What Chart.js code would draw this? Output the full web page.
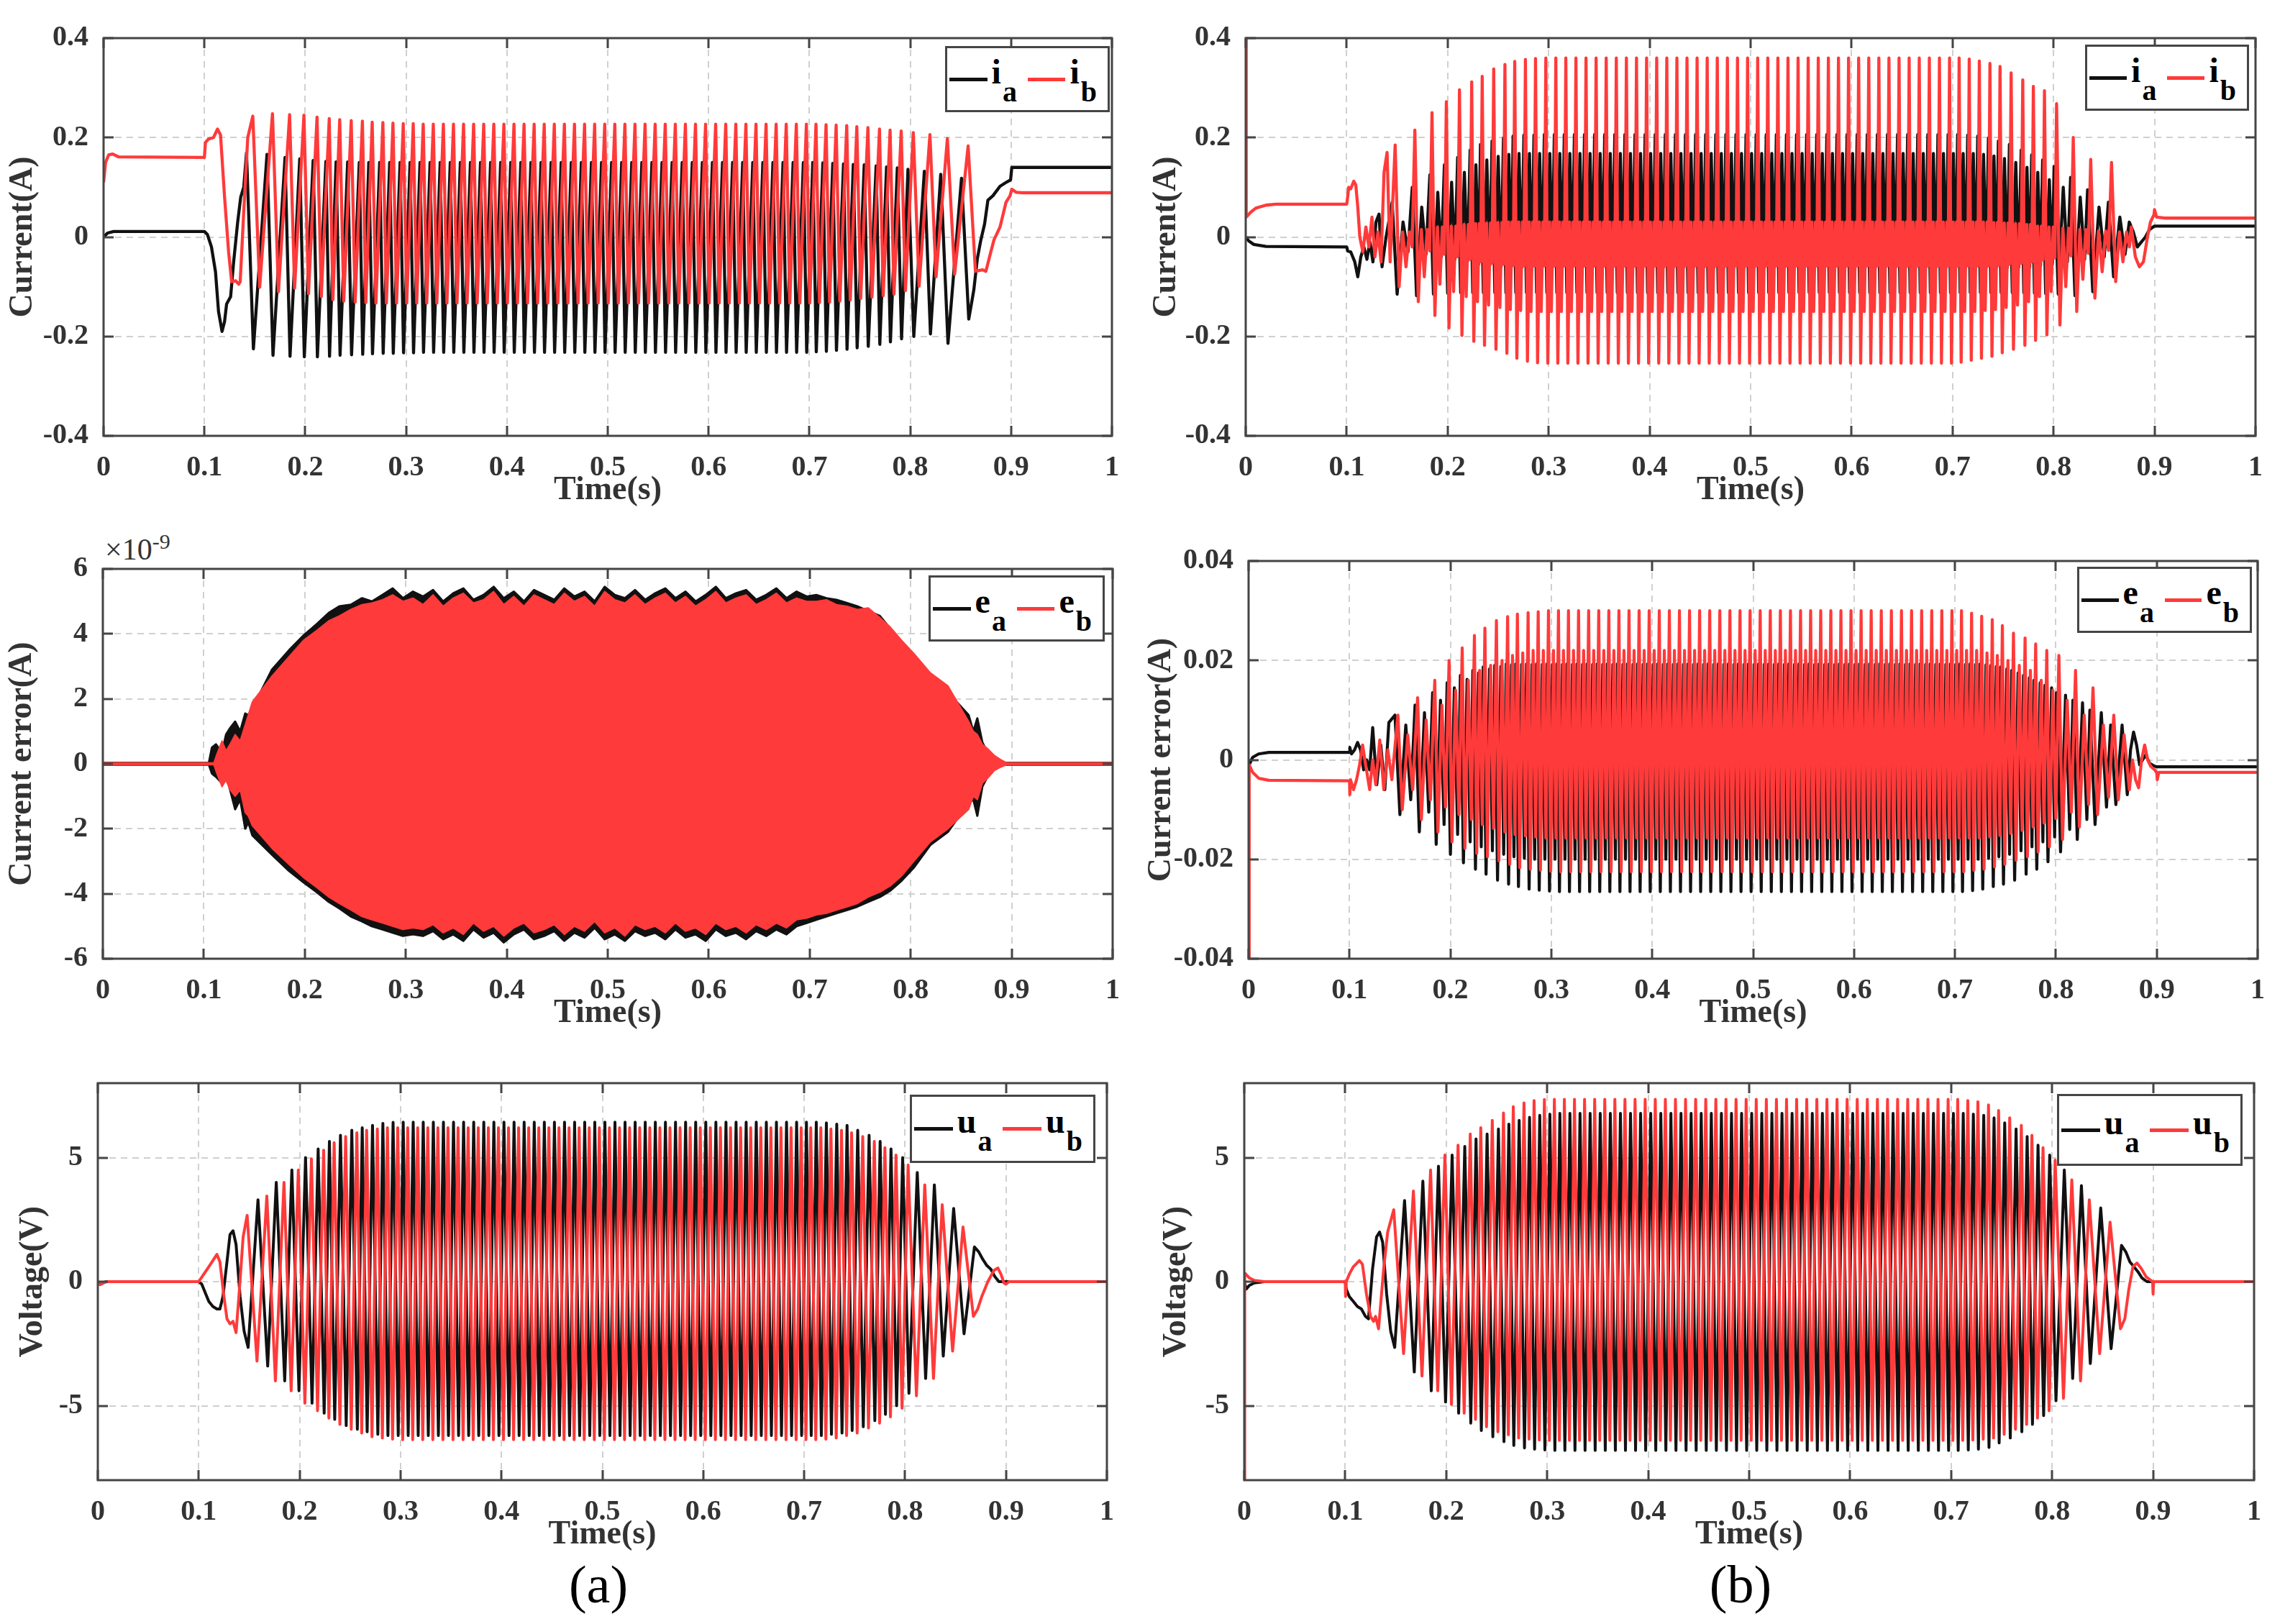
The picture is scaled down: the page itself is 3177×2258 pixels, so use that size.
<!DOCTYPE html>
<html>
<head>
<meta charset="utf-8">
<script src="https://cdn.jsdelivr.net/npm/chart.js@4.4.0/dist/chart.umd.min.js"></script>
<style>
body { margin: 0; background: #fff; width: 3177px; height: 2258px; position: relative; overflow: hidden; font-family: 'Liberation Serif', 'Times New Roman', serif; }
canvas { position: absolute; }
.leg { position: absolute; box-sizing: border-box; border: 3px solid #454545; background: #fff; display: flex; align-items: center; padding-left: 3px; font-weight: bold; font-size: 48px; color: #000; }
.leg .ln { display: inline-block; width: 59px; height: 5px; margin-right: 6px; }
.leg .sy { position: relative; top: -9px; line-height: 48px; margin-right: 15px; white-space: nowrap; }
.leg sub { font-size: 40px; vertical-align: baseline; position: relative; top: 25px; margin-left: 2px; }
.lab { position: absolute; color: #333; white-space: nowrap; }
</style>
</head>
<body>
<div class="lab" style="left:146px;top:732px;font-size:42px;line-height:42px;">&times;10<sup style="font-size:30px">-9</sup></div>
<div class="lab" style="left:832px;top:2166px;font-size:74px;line-height:74px;transform:translateX(-50%);color:#000">(a)</div>
<div class="lab" style="left:2420px;top:2166px;font-size:74px;line-height:74px;transform:translateX(-50%);color:#000">(b)</div>
<script>
// ---- tick values ----
const xTicks = [0, 0.1, 0.2, 0.3, 0.4, 0.5, 0.6, 0.7, 0.8, 0.9, 1];
const iTicks = [-0.4, -0.2, 0, 0.2, 0.4];
const eTicksA = [-6, -4, -2, 0, 2, 4, 6];
const eTicksB = [-0.04, -0.02, 0, 0.02, 0.04];
const uTicks = [-5, 0, 5];

// ---- times of the cycle peaks (s) ----
const cycT = [0.148,0.1675,0.1845,0.1987,0.2117,0.2238,0.2342,0.2456,0.2567,0.2664,0.277,0.287,0.2972,0.3071,
  0.317,0.327,0.337,0.347,0.357,0.367,0.377,0.387,0.397,0.407,0.417,0.427,0.437,
  0.447,0.457,0.467,0.477,0.487,0.497,0.507,0.517,0.527,0.537,0.547,0.557,0.567,
  0.577,0.587,0.597,0.607,0.617,0.627,0.637,0.647,0.657,0.667,0.677,0.687,0.697,
  0.7065,0.7165,0.7265,0.737,0.747,0.758,0.7695,0.78,0.791,0.803,0.8195,0.8368,0.8574];

// ---- (a) currents: peak / trough per cycle ----
const iaHi = [0.169,0.166,0.16,0.157,0.154,0.152,0.151,0.151,0.15,0.15,0.15,0.15,0.15,0.15,
  0.15,0.15,0.15,0.15,0.15,0.15,0.15,0.15,0.15,0.15,0.15,0.15,0.15,
  0.15,0.15,0.15,0.15,0.15,0.15,0.15,0.15,0.15,0.15,0.15,0.15,0.15,
  0.15,0.15,0.15,0.15,0.15,0.15,0.15,0.15,0.15,0.15,0.15,0.15,0.15,
  0.15,0.149,0.148,0.147,0.146,0.145,0.143,0.141,0.139,0.136,0.132,0.126,0.118];
const iaLo = [-0.225,-0.238,-0.24,-0.241,-0.241,-0.24,-0.238,-0.237,-0.236,-0.235,-0.234,-0.234,-0.233,-0.233,
  -0.232,-0.232,-0.232,-0.232,-0.232,-0.232,-0.232,-0.232,-0.232,-0.232,-0.232,-0.232,-0.232,
  -0.232,-0.232,-0.232,-0.232,-0.232,-0.232,-0.232,-0.232,-0.232,-0.232,-0.232,-0.232,-0.232,
  -0.232,-0.232,-0.232,-0.232,-0.232,-0.232,-0.232,-0.232,-0.232,-0.232,-0.232,-0.232,-0.232,
  -0.231,-0.23,-0.228,-0.226,-0.223,-0.22,-0.216,-0.211,-0.205,-0.2,-0.195,-0.214,-0.165];
const ibHi = [0.243,0.248,0.246,0.245,0.241,0.238,0.236,0.234,0.233,0.231,0.23,0.229,0.228,0.228,
  0.227,0.227,0.227,0.227,0.227,0.227,0.227,0.227,0.227,0.227,0.227,0.227,0.227,
  0.227,0.227,0.227,0.227,0.227,0.227,0.227,0.227,0.227,0.227,0.227,0.227,0.227,
  0.227,0.227,0.227,0.227,0.227,0.227,0.227,0.227,0.227,0.227,0.227,0.227,0.227,
  0.227,0.226,0.225,0.224,0.222,0.22,0.217,0.215,0.213,0.21,0.206,0.198,0.183];
const ibLo = [-0.101,-0.11,-0.103,-0.114,-0.12,-0.126,-0.129,-0.131,-0.132,-0.133,-0.133,-0.133,-0.133,-0.133,
  -0.133,-0.133,-0.133,-0.133,-0.133,-0.133,-0.133,-0.133,-0.133,-0.133,-0.133,-0.133,-0.133,
  -0.133,-0.133,-0.133,-0.133,-0.133,-0.133,-0.133,-0.133,-0.133,-0.133,-0.133,-0.133,-0.133,
  -0.133,-0.133,-0.133,-0.133,-0.133,-0.133,-0.133,-0.133,-0.133,-0.133,-0.133,-0.133,-0.133,
  -0.132,-0.131,-0.129,-0.127,-0.124,-0.121,-0.118,-0.115,-0.108,-0.099,-0.08,-0.075,-0.069];
const iaPre = [[0,0],[0.004,0.008],[0.01,0.011],[0.1,0.011],[0.103,0.005],[0.107,-0.02],[0.111,-0.07],[0.114,-0.15],[0.1175,-0.19],[0.12,-0.17],[0.122,-0.135],[0.126,-0.12],[0.129,-0.05],[0.133,0.03],[0.136,0.08],[0.139,0.1]];
const iaPost = [[0.863,-0.107],[0.8665,-0.044],[0.87,-0.006],[0.8737,0.026],[0.877,0.074],[0.882,0.083],[0.889,0.102],[0.896,0.111],[0.8995,0.115],[0.9007,0.14],[0.91,0.14],[1,0.14]];
const ibPre = [[0,0.11],[0.002,0.15],[0.005,0.165],[0.009,0.167],[0.015,0.161],[0.1,0.16],[0.101,0.19],[0.104,0.197],[0.109,0.2],[0.113,0.217],[0.116,0.205],[0.12,0.08],[0.124,-0.03],[0.127,-0.09],[0.131,-0.088],[0.134,-0.095],[0.1355,-0.09],[0.139,0.05],[0.143,0.2]];
const ibPost = [[0.8718,-0.066],[0.875,-0.069],[0.879,-0.037],[0.883,-0.006],[0.889,0.02],[0.895,0.07],[0.899,0.083],[0.9007,0.096],[0.905,0.09],[0.91,0.089],[1,0.089]];

// ---- (b) currents ----
// i_a: spike, dip, shoulder, inner low
const trAHi = [0.07,0.1,0.125,0.145,0.16,0.175,0.186,0.193,0.199,0.203,0.205,0.205,0.206,0.206,
  0.206,0.206,0.206,0.206,0.206,0.206,0.206,0.206,0.206,0.206,0.206,0.206,0.206,
  0.206,0.206,0.206,0.206,0.206,0.206,0.206,0.206,0.206,0.206,0.206,0.206,0.206,
  0.206,0.206,0.206,0.206,0.206,0.206,0.206,0.206,0.206,0.206,0.206,0.206,0.206,
  0.206,0.205,0.203,0.199,0.193,0.186,0.175,0.165,0.155,0.142,0.12,0.095,0.07];
const trALo = [-0.115,-0.118,-0.115,-0.113,-0.112,-0.112,-0.112,-0.112,-0.112,-0.112,-0.112,-0.112,-0.112,-0.112,
  -0.112,-0.112,-0.112,-0.112,-0.112,-0.112,-0.112,-0.112,-0.112,-0.112,-0.112,-0.112,-0.112,
  -0.112,-0.112,-0.112,-0.112,-0.112,-0.112,-0.112,-0.112,-0.112,-0.112,-0.112,-0.112,-0.112,
  -0.112,-0.112,-0.112,-0.112,-0.112,-0.112,-0.112,-0.112,-0.112,-0.112,-0.112,-0.112,-0.112,
  -0.112,-0.112,-0.112,-0.112,-0.112,-0.112,-0.112,-0.113,-0.114,-0.115,-0.118,-0.11,-0.08];
const trAHi2 = [0.03,0.06,0.09,0.11,0.13,0.145,0.155,0.162,0.166,0.168,0.168,0.168,0.168,0.168,
  0.168,0.168,0.168,0.168,0.168,0.168,0.168,0.168,0.168,0.168,0.168,0.168,0.168,
  0.168,0.168,0.168,0.168,0.168,0.168,0.168,0.168,0.168,0.168,0.168,0.168,0.168,
  0.168,0.168,0.168,0.168,0.168,0.168,0.168,0.168,0.168,0.168,0.168,0.168,0.168,
  0.168,0.168,0.166,0.163,0.158,0.15,0.14,0.13,0.115,0.1,0.08,0.06,0.04];
const trALo2 = [-0.03,-0.035,-0.04,-0.045,-0.05,-0.055,-0.058,-0.06,-0.061,-0.061,-0.061,-0.061,-0.061,-0.061,
  -0.061,-0.061,-0.061,-0.061,-0.061,-0.061,-0.061,-0.061,-0.061,-0.061,-0.061,-0.061,-0.061,
  -0.061,-0.061,-0.061,-0.061,-0.061,-0.061,-0.061,-0.061,-0.061,-0.061,-0.061,-0.061,-0.061,
  -0.061,-0.061,-0.061,-0.061,-0.061,-0.061,-0.061,-0.061,-0.061,-0.061,-0.061,-0.061,-0.061,
  -0.061,-0.061,-0.061,-0.061,-0.061,-0.061,-0.061,-0.058,-0.055,-0.05,-0.045,-0.04,-0.035];
// i_b: spike, deep dip, core top, band low, core low
const trBHi = [0.185,0.215,0.25,0.272,0.296,0.312,0.323,0.338,0.347,0.353,0.357,0.359,0.36,0.36,
  0.36,0.36,0.36,0.36,0.36,0.36,0.36,0.36,0.36,0.36,0.36,0.36,0.36,
  0.36,0.36,0.36,0.36,0.36,0.36,0.36,0.36,0.36,0.36,0.36,0.36,0.36,
  0.36,0.36,0.36,0.36,0.36,0.36,0.36,0.36,0.36,0.36,0.36,0.36,0.36,
  0.36,0.358,0.354,0.349,0.343,0.33,0.316,0.303,0.294,0.268,0.2,0.156,0.15];
const trBLo = [-0.1,-0.13,-0.158,-0.183,-0.198,-0.21,-0.218,-0.226,-0.234,-0.244,-0.25,-0.253,-0.254,-0.254,
  -0.254,-0.254,-0.254,-0.254,-0.254,-0.254,-0.254,-0.254,-0.254,-0.254,-0.254,-0.254,-0.254,
  -0.254,-0.254,-0.254,-0.254,-0.254,-0.254,-0.254,-0.254,-0.254,-0.254,-0.254,-0.254,-0.254,
  -0.254,-0.254,-0.254,-0.254,-0.254,-0.254,-0.254,-0.254,-0.254,-0.254,-0.254,-0.254,-0.254,
  -0.252,-0.248,-0.244,-0.24,-0.233,-0.226,-0.218,-0.208,-0.197,-0.177,-0.15,-0.123,-0.09];
const trBCore = [0.01,0.015,0.02,0.022,0.025,0.027,0.028,0.029,0.03,0.03,0.03,0.03,0.03,0.03,
  0.03,0.03,0.03,0.03,0.03,0.03,0.03,0.03,0.03,0.03,0.03,0.03,0.03,
  0.03,0.03,0.03,0.03,0.03,0.03,0.03,0.03,0.03,0.03,0.03,0.03,0.03,
  0.03,0.03,0.03,0.03,0.03,0.03,0.03,0.03,0.03,0.03,0.03,0.03,0.03,
  0.03,0.03,0.03,0.029,0.028,0.027,0.025,0.022,0.02,0.018,0.015,0.012,0.01];
const trBBand = [-0.06,-0.08,-0.095,-0.11,-0.12,-0.13,-0.137,-0.142,-0.146,-0.148,-0.15,-0.15,-0.15,-0.15,
  -0.15,-0.15,-0.15,-0.15,-0.15,-0.15,-0.15,-0.15,-0.15,-0.15,-0.15,-0.15,-0.15,
  -0.15,-0.15,-0.15,-0.15,-0.15,-0.15,-0.15,-0.15,-0.15,-0.15,-0.15,-0.15,-0.15,
  -0.15,-0.15,-0.15,-0.15,-0.15,-0.15,-0.15,-0.15,-0.15,-0.15,-0.15,-0.15,-0.15,
  -0.15,-0.15,-0.148,-0.146,-0.142,-0.137,-0.13,-0.12,-0.11,-0.1,-0.085,-0.07,-0.05];
const trBCoreLo = [-0.02,-0.028,-0.035,-0.04,-0.045,-0.05,-0.053,-0.055,-0.057,-0.058,-0.058,-0.058,-0.058,-0.058,
  -0.058,-0.058,-0.058,-0.058,-0.058,-0.058,-0.058,-0.058,-0.058,-0.058,-0.058,-0.058,-0.058,
  -0.058,-0.058,-0.058,-0.058,-0.058,-0.058,-0.058,-0.058,-0.058,-0.058,-0.058,-0.058,-0.058,
  -0.058,-0.058,-0.058,-0.058,-0.058,-0.058,-0.058,-0.058,-0.058,-0.058,-0.058,-0.058,-0.058,
  -0.058,-0.058,-0.058,-0.057,-0.055,-0.053,-0.05,-0.046,-0.042,-0.038,-0.033,-0.027,-0.02];
const trAPre = [[0,0],[0.003,-0.008],[0.008,-0.015],[0.02,-0.019],[0.1,-0.02],[0.101,-0.028],[0.104,-0.03],[0.108,-0.05],[0.111,-0.08],[0.114,-0.04],[0.117,-0.02],[0.12,-0.045],[0.123,-0.01],[0.126,-0.05],[0.129,0.03],[0.132,0.046],[0.135,-0.06],[0.139,0]];
const trAPost = [[0.875,0.03],[0.879,0.01],[0.883,-0.02],[0.887,-0.01],[0.891,0],[0.895,0.015],[0.9,0.022],[1,0.022]];
const trBPre = [[0,0.4],[0.0005,0.04],[0.005,0.05],[0.01,0.058],[0.02,0.064],[0.03,0.066],[0.1,0.066],[0.1005,0.072],[0.102,0.1],[0.104,0.097],[0.107,0.112],[0.109,0.105],[0.111,0.06],[0.113,0],[0.116,-0.03],[0.119,0.02],[0.122,-0.02],[0.125,0.04],[0.128,-0.04],[0.131,0.01],[0.134,-0.05],[0.137,0.13],[0.14,0.17],[0.143,-0.05]];
const trBPost = [[0.877,0.02],[0.881,-0.04],[0.885,-0.06],[0.889,-0.05],[0.893,0],[0.896,0.03],[0.8995,0.045],[0.9,0.055],[0.902,0.04],[0.91,0.038],[1,0.038]];

// ---- (a) current error (x1e-9): envelope per cycle ----
const eaUp = [1.7,2.9,3.5,3.95,4.3,4.65,4.85,4.9,5.1,5.0,5.2,5.4,5.1,5.3,
  5.15,5.35,5.0,5.25,5.4,5.05,5.2,5.45,5.1,5.3,5.0,5.35,5.2,
  5.05,5.4,5.15,5.3,5.0,5.45,5.2,5.1,5.35,5.05,5.25,5.4,5.1,
  5.3,5.0,5.2,5.45,5.1,5.25,5.35,5.05,5.2,5.4,5.1,5.3,5.15,
  5.2,5.1,5.05,4.95,4.85,4.7,4.55,4.15,3.75,3.3,2.6,2.2,1.5];
const eaDn = [-2.2,-2.8,-3.3,-3.65,-3.95,-4.25,-4.45,-4.7,-4.85,-5.0,-5.1,-5.2,-5.3,-5.25,
  -5.3,-5.15,-5.4,-5.25,-5.45,-5.1,-5.35,-5.2,-5.5,-5.25,-5.1,-5.4,-5.3,
  -5.15,-5.45,-5.2,-5.35,-5.05,-5.4,-5.25,-5.45,-5.15,-5.3,-5.2,-5.4,-5.1,
  -5.35,-5.25,-5.45,-5.1,-5.3,-5.2,-5.4,-5.15,-5.3,-5.1,-5.25,-5.0,-4.9,
  -4.8,-4.7,-4.6,-4.5,-4.4,-4.25,-4.1,-3.9,-3.6,-3.2,-2.5,-2.1,-1.2];
const ebUp = [1.9,2.7,3.3,3.8,4.1,4.4,4.55,4.75,4.9,4.95,5.05,5.2,5.0,5.1,
  4.9,5.2,4.85,5.1,5.25,4.95,5.05,5.3,4.9,5.15,4.85,5.2,5.05,
  4.9,5.25,5.0,5.15,4.85,5.3,5.05,4.95,5.2,4.9,5.1,5.25,4.95,
  5.15,4.85,5.05,5.3,4.95,5.1,5.2,4.9,5.05,5.25,4.95,5.1,5.0,
  5.0,5.05,4.9,4.85,4.75,4.8,4.5,4.2,3.8,3.4,2.8,2.4,1.3];
const ebDn = [-1.9,-2.6,-3.1,-3.5,-3.8,-4.1,-4.3,-4.5,-4.7,-4.8,-4.9,-5.0,-5.1,-5.05,
  -5.1,-4.95,-5.2,-5.05,-5.25,-4.9,-5.15,-5.0,-5.3,-5.05,-4.9,-5.2,-5.1,
  -4.95,-5.25,-5.0,-5.15,-4.85,-5.2,-5.05,-5.3,-4.95,-5.1,-5.0,-5.2,-4.9,
  -5.15,-5.05,-5.25,-4.9,-5.1,-5.0,-5.2,-4.95,-5.1,-4.9,-5.05,-4.8,-4.75,
  -4.65,-4.6,-4.5,-4.4,-4.3,-4.1,-3.95,-3.75,-3.45,-3.0,-2.4,-2.0,-1.4];
const eaUpPre = [[0,0.03],[0.105,0.03],[0.108,0.5],[0.112,0.6],[0.118,0.35],[0.122,0.9],[0.126,1.1],[0.131,1.3],[0.136,1.0],[0.141,1.55],[0.144,1.5]];
const eaDnPre = [[0,-0.03],[0.105,-0.03],[0.108,-0.3],[0.112,-0.4],[0.118,-0.6],[0.122,-0.35],[0.126,-0.8],[0.131,-1.4],[0.136,-1.1],[0.141,-2.0],[0.144,-1.8]];
const ebUpPre = [[0,0.03],[0.11,0.03],[0.113,0.3],[0.118,0.7],[0.122,0.4],[0.126,0.6],[0.131,0.9],[0.136,0.7],[0.141,1.2],[0.144,1.5]];
const ebDnPre = [[0,-0.03],[0.11,-0.03],[0.113,-0.3],[0.118,-0.7],[0.122,-0.5],[0.126,-0.8],[0.131,-1.0],[0.136,-0.8],[0.141,-1.5],[0.144,-1.6]];
const eaUpPost = [[0.862,1.0],[0.866,1.4],[0.871,0.66],[0.876,0.35],[0.882,0.18],[0.888,0.05],[0.892,0.03],[1,0.03]];
const eaDnPost = [[0.862,-1.1],[0.866,-1.6],[0.871,-0.7],[0.876,-0.4],[0.882,-0.15],[0.888,-0.05],[0.892,-0.03],[1,-0.03]];
const ebUpPost = [[0.862,1.0],[0.866,0.9],[0.871,0.6],[0.876,0.47],[0.883,0.25],[0.889,0.13],[0.895,0.03],[1,0.03]];
const ebDnPost = [[0.862,-1.0],[0.866,-1.1],[0.871,-0.6],[0.876,-0.45],[0.883,-0.2],[0.889,-0.1],[0.895,-0.03],[1,-0.03]];

// ---- (b) current error ----
const mrAHi = [0.009,0.011,0.0135,0.0155,0.017,0.018,0.0187,0.019,0.0193,0.0193,0.0193,0.0193,0.0193,0.0193,
  0.0193,0.0193,0.0193,0.0193,0.0193,0.0193,0.0193,0.0193,0.0193,0.0193,0.0193,0.0193,0.0193,
  0.0193,0.0193,0.0193,0.0193,0.0193,0.0193,0.0193,0.0193,0.0193,0.0193,0.0193,0.0193,0.0193,
  0.0193,0.0193,0.0193,0.0193,0.0193,0.0193,0.0193,0.0193,0.0193,0.0193,0.0193,0.0193,0.0193,
  0.0193,0.0193,0.0193,0.019,0.0187,0.018,0.017,0.016,0.015,0.0135,0.012,0.01,0.007];
const mrALo = [-0.011,-0.0145,-0.017,-0.019,-0.0207,-0.022,-0.023,-0.0242,-0.025,-0.0255,-0.026,-0.0262,-0.0264,-0.0265,
  -0.0265,-0.0265,-0.0265,-0.0265,-0.0265,-0.0265,-0.0265,-0.0265,-0.0265,-0.0265,-0.0265,-0.0265,-0.0265,
  -0.0265,-0.0265,-0.0265,-0.0265,-0.0265,-0.0265,-0.0265,-0.0265,-0.0265,-0.0265,-0.0265,-0.0265,-0.0265,
  -0.0265,-0.0265,-0.0265,-0.0265,-0.0265,-0.0265,-0.0265,-0.0265,-0.0265,-0.0265,-0.0265,-0.0265,-0.0265,
  -0.0265,-0.0263,-0.026,-0.0255,-0.025,-0.0242,-0.023,-0.022,-0.0205,-0.0185,-0.016,-0.013,-0.009];
const mrAHi2 = [0.007,0.0095,0.012,0.0145,0.0162,0.0175,0.0183,0.0188,0.0191,0.0192,0.0192,0.0192,0.0192,0.0192,
  0.0192,0.0192,0.0192,0.0192,0.0192,0.0192,0.0192,0.0192,0.0192,0.0192,0.0192,0.0192,0.0192,
  0.0192,0.0192,0.0192,0.0192,0.0192,0.0192,0.0192,0.0192,0.0192,0.0192,0.0192,0.0192,0.0192,
  0.0192,0.0192,0.0192,0.0192,0.0192,0.0192,0.0192,0.0192,0.0192,0.0192,0.0192,0.0192,0.0192,
  0.0192,0.0192,0.0191,0.0188,0.0183,0.0175,0.0165,0.0155,0.0145,0.013,0.0115,0.0095,0.007];
const mrALo2 = [-0.008,-0.0105,-0.013,-0.015,-0.0165,-0.0175,-0.0183,-0.019,-0.0195,-0.0198,-0.02,-0.02,-0.02,-0.02,
  -0.02,-0.02,-0.02,-0.02,-0.02,-0.02,-0.02,-0.02,-0.02,-0.02,-0.02,-0.02,-0.02,
  -0.02,-0.02,-0.02,-0.02,-0.02,-0.02,-0.02,-0.02,-0.02,-0.02,-0.02,-0.02,-0.02,
  -0.02,-0.02,-0.02,-0.02,-0.02,-0.02,-0.02,-0.02,-0.02,-0.02,-0.02,-0.02,-0.02,
  -0.02,-0.02,-0.0198,-0.0195,-0.019,-0.0183,-0.0175,-0.0165,-0.0155,-0.014,-0.012,-0.0095,-0.007];
const mrBHi = [0.009,0.0125,0.016,0.02,0.0225,0.025,0.0265,0.028,0.0288,0.0293,0.0296,0.0298,0.03,0.03,
  0.03,0.03,0.03,0.03,0.03,0.03,0.03,0.03,0.03,0.03,0.03,0.03,0.03,
  0.03,0.03,0.03,0.03,0.03,0.03,0.03,0.03,0.03,0.03,0.03,0.03,0.03,
  0.03,0.03,0.03,0.03,0.03,0.03,0.03,0.03,0.03,0.03,0.03,0.03,0.03,
  0.03,0.0295,0.0289,0.0282,0.027,0.0255,0.0245,0.0233,0.022,0.021,0.018,0.0145,0.009];
const mrBLo = [-0.01,-0.012,-0.0145,-0.0165,-0.0178,-0.0188,-0.0195,-0.0203,-0.021,-0.0217,-0.022,-0.0222,-0.0224,-0.0225,
  -0.0225,-0.0225,-0.0225,-0.0225,-0.0225,-0.0225,-0.0225,-0.0225,-0.0225,-0.0225,-0.0225,-0.0225,-0.0225,
  -0.0225,-0.0225,-0.0225,-0.0225,-0.0225,-0.0225,-0.0225,-0.0225,-0.0225,-0.0225,-0.0225,-0.0225,-0.0225,
  -0.0225,-0.0225,-0.0225,-0.0225,-0.0225,-0.0225,-0.0225,-0.0225,-0.0225,-0.0225,-0.0225,-0.0225,-0.0225,
  -0.0225,-0.0222,-0.022,-0.0215,-0.021,-0.0202,-0.0195,-0.0185,-0.0175,-0.016,-0.0135,-0.011,-0.008];
const mrBHi2 = [0.005,0.008,0.011,0.014,0.016,0.018,0.019,0.02,0.021,0.0215,0.022,0.022,0.022,0.022,
  0.022,0.022,0.022,0.022,0.022,0.022,0.022,0.022,0.022,0.022,0.022,0.022,0.022,
  0.022,0.022,0.022,0.022,0.022,0.022,0.022,0.022,0.022,0.022,0.022,0.022,0.022,
  0.022,0.022,0.022,0.022,0.022,0.022,0.022,0.022,0.022,0.022,0.022,0.022,0.022,
  0.022,0.022,0.0215,0.021,0.02,0.019,0.018,0.016,0.014,0.012,0.009,0.007,0.005];
const mrBLo2 = [-0.006,-0.008,-0.0095,-0.011,-0.012,-0.013,-0.0138,-0.0145,-0.015,-0.0153,-0.0155,-0.0157,-0.0157,-0.0157,
  -0.0157,-0.0157,-0.0157,-0.0157,-0.0157,-0.0157,-0.0157,-0.0157,-0.0157,-0.0157,-0.0157,-0.0157,-0.0157,
  -0.0157,-0.0157,-0.0157,-0.0157,-0.0157,-0.0157,-0.0157,-0.0157,-0.0157,-0.0157,-0.0157,-0.0157,-0.0157,
  -0.0157,-0.0157,-0.0157,-0.0157,-0.0157,-0.0157,-0.0157,-0.0157,-0.0157,-0.0157,-0.0157,-0.0157,-0.0157,
  -0.0157,-0.0157,-0.0155,-0.0152,-0.0148,-0.0142,-0.0135,-0.0127,-0.0118,-0.0105,-0.009,-0.0075,-0.006];
const mrAPre = [[0,0],[0.001,-0.0008],[0.004,0.0005],[0.01,0.0012],[0.02,0.0015],[0.1,0.0015],[0.1003,0.0025],[0.102,0.0012],[0.105,0.002],[0.108,0.0035],[0.111,0.002],[0.114,-0.002],[0.117,0],[0.12,-0.002],[0.123,0.0065],[0.127,-0.005],[0.131,0.003],[0.135,-0.006],[0.139,0.0075]];
const mrAPost = [[0.874,0.002],[0.877,0.0056],[0.88,0.003],[0.883,-0.001],[0.886,0],[0.889,0.001],[0.893,-0.0007],[0.897,-0.0012],[0.9,-0.0014],[1,-0.0014]];
const mrBPre = [[0,-0.04],[0.0006,-0.001],[0.004,-0.0025],[0.01,-0.0037],[0.02,-0.0041],[0.1,-0.0042],[0.1003,-0.007],[0.101,-0.004],[0.104,-0.006],[0.107,-0.004],[0.11,-0.001],[0.113,0.003],[0.116,-0.001],[0.12,-0.006],[0.123,0],[0.126,-0.005],[0.13,0.004],[0.134,-0.006],[0.138,0.002],[0.142,-0.004]];
const mrBPost = [[0.876,0],[0.879,-0.004],[0.882,-0.0056],[0.885,0],[0.888,0.003],[0.891,0],[0.894,-0.0013],[0.898,-0.002],[0.9,-0.0026],[0.9005,-0.004],[0.902,-0.0025],[1,-0.0025]];

// ---- (a) voltages ----
const blAHi = [3.3,4.0,4.5,5.0,5.35,5.65,5.9,6.1,6.2,6.3,6.38,6.42,6.43,6.43,
  6.43,6.43,6.43,6.43,6.43,6.43,6.43,6.43,6.43,6.43,6.43,6.43,6.43,
  6.43,6.43,6.43,6.43,6.43,6.43,6.43,6.43,6.43,6.43,6.43,6.43,6.43,
  6.43,6.43,6.43,6.43,6.43,6.43,6.43,6.43,6.43,6.43,6.43,6.43,6.43,
  6.43,6.4,6.35,6.3,6.1,5.9,5.65,5.35,5.0,4.4,3.9,2.95,1.4];
const blALo = [-2.65,-3.4,-4.0,-4.4,-4.9,-5.3,-5.55,-5.8,-5.95,-6.05,-6.15,-6.2,-6.2,-6.2,
  -6.2,-6.2,-6.2,-6.2,-6.2,-6.2,-6.2,-6.2,-6.2,-6.2,-6.2,-6.2,-6.2,
  -6.2,-6.2,-6.2,-6.2,-6.2,-6.2,-6.2,-6.2,-6.2,-6.2,-6.2,-6.2,-6.2,
  -6.2,-6.2,-6.2,-6.2,-6.2,-6.2,-6.2,-6.2,-6.2,-6.2,-6.2,-6.2,-6.2,
  -6.2,-6.2,-6.15,-6.1,-6.0,-5.85,-5.6,-5.35,-5.0,-4.5,-3.9,-3.0,-2.1];
const blBHi = [2.67,3.45,4.0,4.5,4.95,5.3,5.6,5.85,6.0,6.1,6.15,6.2,6.2,6.2,
  6.2,6.2,6.2,6.2,6.2,6.2,6.2,6.2,6.2,6.2,6.2,6.2,6.2,
  6.2,6.2,6.2,6.2,6.2,6.2,6.2,6.2,6.2,6.2,6.2,6.2,6.2,
  6.2,6.2,6.2,6.2,6.2,6.2,6.2,6.2,6.2,6.2,6.2,6.2,6.2,
  6.2,6.2,6.15,6.1,6.0,5.85,5.65,5.4,5.1,4.7,3.9,3.1,2.2];
const blBLo = [-3.2,-4.0,-4.4,-4.9,-5.2,-5.5,-5.75,-5.95,-6.1,-6.25,-6.3,-6.35,-6.37,-6.37,
  -6.37,-6.37,-6.37,-6.37,-6.37,-6.37,-6.37,-6.37,-6.37,-6.37,-6.37,-6.37,-6.37,
  -6.37,-6.37,-6.37,-6.37,-6.37,-6.37,-6.37,-6.37,-6.37,-6.37,-6.37,-6.37,-6.37,
  -6.37,-6.37,-6.37,-6.37,-6.37,-6.37,-6.37,-6.37,-6.37,-6.37,-6.37,-6.37,-6.37,
  -6.37,-6.35,-6.3,-6.2,-6.1,-5.9,-5.7,-5.45,-5.1,-4.6,-3.9,-2.8,-1.4];
const blAPre = [[0,0],[0.003,-0.1],[0.008,0],[0.1,0],[0.103,-0.1],[0.107,-0.5],[0.11,-0.8],[0.114,-1.0],[0.118,-1.1],[0.121,-1.1],[0.124,-0.6],[0.128,0.8],[0.131,1.9],[0.134,2.05],[0.137,1.5],[0.141,-0.6],[0.145,-2.0]];
const blAPost = [[0.873,1.2],[0.877,0.9],[0.881,0.65],[0.885,0.5],[0.889,0.2],[0.893,0],[1,0]];
const blBPre = [[0,0],[0.002,-0.12],[0.006,-0.03],[0.01,0],[0.1,0],[0.105,0.3],[0.11,0.6],[0.118,1.1],[0.121,0.8],[0.125,-0.6],[0.128,-1.5],[0.131,-1.7],[0.134,-1.6],[0.137,-2.05],[0.14,-0.5],[0.144,1.8]];
const blBPost = [[0.872,-1.1],[0.876,-0.6],[0.882,0],[0.888,0.45],[0.892,0.55],[0.895,0.3],[0.898,-0.05],[0.9,-0.1],[0.903,0],[1,0]];

// ---- (b) voltages ----
const brAHi = [3.27,4.05,4.65,5.1,5.45,5.75,5.95,6.15,6.35,6.5,6.62,6.7,6.75,6.78,
  6.78,6.78,6.78,6.78,6.78,6.78,6.78,6.78,6.78,6.78,6.78,6.78,6.78,
  6.78,6.78,6.78,6.78,6.78,6.78,6.78,6.78,6.78,6.78,6.78,6.78,6.78,
  6.78,6.78,6.78,6.78,6.78,6.78,6.78,6.78,6.78,6.78,6.78,6.78,6.78,
  6.78,6.75,6.7,6.6,6.4,6.15,5.85,5.5,5.1,4.5,3.87,2.97,1.46];
const brALo = [-2.65,-3.64,-4.4,-4.85,-5.3,-5.7,-6.0,-6.25,-6.45,-6.6,-6.7,-6.75,-6.78,-6.8,
  -6.8,-6.8,-6.8,-6.8,-6.8,-6.8,-6.8,-6.8,-6.8,-6.8,-6.8,-6.8,-6.8,
  -6.8,-6.8,-6.8,-6.8,-6.8,-6.8,-6.8,-6.8,-6.8,-6.8,-6.8,-6.8,-6.8,
  -6.8,-6.8,-6.8,-6.8,-6.8,-6.8,-6.8,-6.8,-6.8,-6.8,-6.8,-6.8,-6.8,
  -6.8,-6.78,-6.75,-6.68,-6.5,-6.3,-6.05,-5.75,-5.4,-4.8,-3.9,-3.3,-2.7];
const brBHi = [2.9,3.65,4.5,5.1,5.5,5.95,6.2,6.5,6.8,7.05,7.2,7.3,7.34,7.35,
  7.35,7.35,7.35,7.35,7.35,7.35,7.35,7.35,7.35,7.35,7.35,7.35,7.35,
  7.35,7.35,7.35,7.35,7.35,7.35,7.35,7.35,7.35,7.35,7.35,7.35,7.35,
  7.35,7.35,7.35,7.35,7.35,7.35,7.35,7.35,7.35,7.35,7.35,7.35,7.35,
  7.35,7.3,7.25,7.12,6.9,6.6,6.3,5.9,5.4,4.9,4.1,3.3,2.4];
const brBLo = [-2.9,-3.8,-4.4,-4.95,-5.3,-5.55,-5.85,-6.05,-6.17,-6.3,-6.35,-6.38,-6.4,-6.4,
  -6.4,-6.4,-6.4,-6.4,-6.4,-6.4,-6.4,-6.4,-6.4,-6.4,-6.4,-6.4,-6.4,
  -6.4,-6.4,-6.4,-6.4,-6.4,-6.4,-6.4,-6.4,-6.4,-6.4,-6.4,-6.4,-6.4,
  -6.4,-6.4,-6.4,-6.4,-6.4,-6.4,-6.4,-6.4,-6.4,-6.4,-6.4,-6.4,-6.4,
  -6.4,-6.38,-6.35,-6.3,-6.15,-5.95,-5.75,-5.5,-5.2,-4.7,-4.0,-2.9,-1.9];
const brAPre = [[0,0],[0.002,-0.3],[0.005,-0.15],[0.01,-0.05],[0.02,0],[0.1,0],[0.101,-0.3],[0.104,-0.6],[0.108,-0.8],[0.112,-1.0],[0.116,-1.1],[0.12,-1.4],[0.123,-1.5],[0.127,0.5],[0.131,1.8],[0.134,2.0],[0.137,1.6],[0.141,-0.5],[0.145,-2.0]];
const brAPost = [[0.873,1.2],[0.877,0.8],[0.881,0.6],[0.885,0.4],[0.889,0.15],[0.894,0],[1,0]];
const brBPre = [[0,-8],[0.0004,0.35],[0.005,0.15],[0.01,0.05],[0.02,0],[0.1,0],[0.1003,-0.6],[0.101,0],[0.104,0.3],[0.108,0.6],[0.114,0.85],[0.117,0.7],[0.121,-0.5],[0.125,-1.4],[0.128,-1.6],[0.13,-1.4],[0.133,-1.9],[0.138,0.5],[0.142,2.0]];
const brBPost = [[0.872,-1.5],[0.876,-0.3],[0.88,0.6],[0.884,0.75],[0.888,0.55],[0.893,0.2],[0.8995,0],[0.9,-0.5],[0.9005,0],[1,0]];

// ---------------------------------------------------------------
const RED = '#ff3a3a', BLK = '#111111', AX = '#454545', TXT = '#333333';
const FAM = "'Liberation Serif', 'Times New Roman', serif";

[iaHi, iaLo, ibHi, ibLo, trAHi, trALo, trAHi2, trALo2, trBHi, trBLo, trBCore, trBBand, trBCoreLo,
 eaUp, eaDn, ebUp, ebDn, mrAHi, mrALo, mrAHi2, mrALo2, mrBHi, mrBLo, mrBHi2, mrBLo2,
 blAHi, blALo, blBHi, blBLo, brAHi, brALo, brBHi, brBLo].forEach((a, i) => {
  if (a.length !== cycT.length) throw new Error('array ' + i + ' has ' + a.length);
});

function pts(pairs) { return pairs.map(p => ({ x: p[0], y: p[1] })); }

// one point per level per cycle, placed at a fraction of that cycle's period
function cyc(levels, phases) {
  const out = [];
  for (let k = 0; k < cycT.length; k++) {
    const T = k < cycT.length - 1 ? cycT[k + 1] - cycT[k] : cycT[k] - cycT[k - 1];
    levels.forEach((lv, j) => out.push({ x: cycT[k] + phases[j] * T, y: lv[k] }));
  }
  return out;
}
function wave(pre, levels, phases, post) { return pts(pre).concat(cyc(levels, phases), pts(post)); }

const frame = {
  id: 'frame',
  beforeDatasetsDraw(c) {
    const { ctx, chartArea: a } = c, x = c.scales.x, y = c.scales.y;
    ctx.save();
    ctx.strokeStyle = '#d0d0d0'; ctx.lineWidth = 2; ctx.setLineDash([9, 7]);
    ctx.beginPath();
    x.ticks.forEach(t => {
      const p = Math.round(x.getPixelForValue(t.value));
      if (p > a.left + 3 && p < a.right - 3) { ctx.moveTo(p, a.top); ctx.lineTo(p, a.bottom); }
    });
    y.ticks.forEach(t => {
      const p = Math.round(y.getPixelForValue(t.value));
      if (p > a.top + 3 && p < a.bottom - 3) { ctx.moveTo(a.left, p); ctx.lineTo(a.right, p); }
    });
    ctx.stroke();
    ctx.restore();
  },
  afterDatasetsDraw(c) {
    const { ctx, chartArea: a } = c, x = c.scales.x, y = c.scales.y, L = 14;
    ctx.save();
    ctx.strokeStyle = AX; ctx.lineWidth = 3;
    ctx.beginPath();
    x.ticks.forEach(t => {
      const p = Math.round(x.getPixelForValue(t.value));
      ctx.moveTo(p, a.bottom); ctx.lineTo(p, a.bottom - L);
      ctx.moveTo(p, a.top); ctx.lineTo(p, a.top + L);
    });
    y.ticks.forEach(t => {
      const p = Math.round(y.getPixelForValue(t.value));
      ctx.moveTo(a.left, p); ctx.lineTo(a.left + L, p);
      ctx.moveTo(a.right, p); ctx.lineTo(a.right - L, p);
    });
    ctx.stroke();
    ctx.strokeRect(a.left, a.top, a.right - a.left, a.bottom - a.top);
    ctx.restore();
  }
};

function panel(o) {
  const left = o.pl - o.dist - 23, top = o.pt - 26;
  const w = o.pr + 20 - left, h = o.pb + 110 - top;
  const cv = document.createElement('canvas');
  cv.width = w; cv.height = h;
  cv.style.left = left + 'px'; cv.style.top = top + 'px';
  cv.style.width = w + 'px'; cv.style.height = h + 'px';
  document.body.appendChild(cv);
  const tickFont = { family: FAM, size: 40, weight: 'bold', lineHeight: 1 };
  const titleFont = { family: FAM, size: 46, weight: 'bold', lineHeight: 1 };
  new Chart(cv, {
    type: 'line',
    data: { datasets: o.datasets },
    options: {
      responsive: false, animation: false, devicePixelRatio: 1,
      parsing: false, normalized: true,
      layout: { padding: { top: 26, right: 20, left: 0, bottom: 0 } },
      plugins: { legend: { display: false }, tooltip: { enabled: false } },
      elements: { point: { radius: 0 }, line: { tension: 0, borderJoinStyle: 'round' } },
      scales: {
        x: {
          type: 'linear', min: 0, max: 1,
          afterBuildTicks: s => { s.ticks = xTicks.map(v => ({ value: v })); },
          afterFit: s => { s.height = 110; },
          grid: { display: false }, border: { display: false },
          ticks: { autoSkip: false, maxRotation: 0, padding: 17, color: TXT, font: tickFont, callback: v => String(v) },
          title: { display: true, text: 'Time(s)', color: TXT, font: titleFont, padding: { top: 0, bottom: 11 } }
        },
        y: {
          type: 'linear', min: o.yMin, max: o.yMax,
          afterBuildTicks: s => { s.ticks = o.yTicks.map(v => ({ value: v })); },
          afterFit: s => { s.width = o.dist + 23; },
          grid: { display: false }, border: { display: false },
          ticks: { padding: 13, color: TXT, font: tickFont, callback: v => String(v) },
          title: { display: true, text: o.yTitle, color: TXT, font: titleFont, padding: { top: 0, bottom: 0 } }
        }
      }
    },
    plugins: [frame]
  });
}

function line(data, color, width) {
  return { data, borderColor: color, borderWidth: width, pointRadius: 0, fill: false };
}
function band(data, color, fill, width) {
  return { data, borderColor: color, backgroundColor: color, borderWidth: width, pointRadius: 0, fill };
}

function legend(x, y, w, h, s) {
  const d = document.createElement('div');
  d.className = 'leg';
  d.style.left = x + 'px'; d.style.top = y + 'px'; d.style.width = w + 'px'; d.style.height = h + 'px';
  d.innerHTML = '<span class="ln" style="background:' + BLK + '"></span><span class="sy">' + s + '<sub>a</sub></span>' +
    '<span class="ln" style="background:' + RED + '"></span><span class="sy">' + s + '<sub>b</sub></span>';
  document.body.appendChild(d);
}

// red datasets first so they are drawn on top
panel({ pl: 144, pt: 46, pr: 1553, pb: 606, dist: 112, yMin: -0.4, yMax: 0.4, yTicks: iTicks, yTitle: 'Current(A)',
  datasets: [
    line(wave(ibPre, [ibHi, ibLo], [0, 0.35], ibPost), RED, 4.3),
    line(wave(iaPre, [iaHi, iaLo], [-0.32, 0.03], iaPost), BLK, 4.3)
  ] });
panel({ pl: 1732, pt: 46, pr: 3143, pb: 606, dist: 110, yMin: -0.4, yMax: 0.4, yTicks: iTicks, yTitle: 'Current(A)',
  datasets: [
    line(wave(trBPre, [trBHi, trBLo, trBCore, trBBand, trBCore, trBCoreLo], [0, 0.2, 0.38, 0.55, 0.72, 0.86], trBPost), RED, 4.3),
    line(wave(trAPre, [trAHi, trALo, trAHi2, trALo2], [-0.15, 0.1, 0.4, 0.65], trAPost), BLK, 4.3)
  ] });
panel({ pl: 143, pt: 784, pr: 1554, pb: 1333, dist: 112, yMin: -6, yMax: 6, yTicks: eTicksA, yTitle: 'Current error(A)',
  datasets: [
    band(wave(ebUpPre, [ebUp], [0], ebUpPost), RED, '+1', 2),
    band(wave(ebDnPre, [ebDn], [0], ebDnPost), RED, false, 2),
    band(wave(eaUpPre, [eaUp], [0], eaUpPost), BLK, '+1', 3),
    band(wave(eaDnPre, [eaDn], [0], eaDnPost), BLK, false, 3)
  ] });
panel({ pl: 1736, pt: 773, pr: 3146, pb: 1333, dist: 121, yMin: -0.04, yMax: 0.04, yTicks: eTicksB, yTitle: 'Current error(A)',
  datasets: [
    line(wave(mrBPre, [mrBHi, mrBLo, mrBHi2, mrBLo2], [0, 0.22, 0.5, 0.75], mrBPost), RED, 4.2),
    line(wave(mrAPre, [mrAHi, mrALo, mrAHi2, mrALo2], [-0.15, 0.1, 0.4, 0.65], mrAPost), BLK, 4.2)
  ] });
panel({ pl: 136, pt: 1499, pr: 1546, pb: 2058, dist: 90, yMin: -8, yMax: 8, yTicks: uTicks, yTitle: 'Voltage(V)',
  datasets: [
    line(wave(blBPre, [blBHi, blBLo], [0, 0.5], blBPost), RED, 4),
    line(wave(blAPre, [blALo, blAHi], [0.05, 0.55], blAPost), BLK, 4)
  ] });
panel({ pl: 1730, pt: 1499, pr: 3141, pb: 2058, dist: 94, yMin: -8, yMax: 8, yTicks: uTicks, yTitle: 'Voltage(V)',
  datasets: [
    line(wave(brBPre, [brBHi, brBLo], [0, 0.5], brBPost), RED, 4),
    line(wave(brAPre, [brALo, brAHi], [0.05, 0.55], brAPost), BLK, 4)
  ] });

legend(1314, 64, 229, 92, 'i');
legend(2899, 62, 228, 92, 'i');
legend(1291, 800, 245, 92, 'e');
legend(2888, 788, 243, 92, 'e');
legend(1265, 1522, 258, 95, 'u');
legend(2860, 1521, 258, 100, 'u');
</script>
</body>
</html>
